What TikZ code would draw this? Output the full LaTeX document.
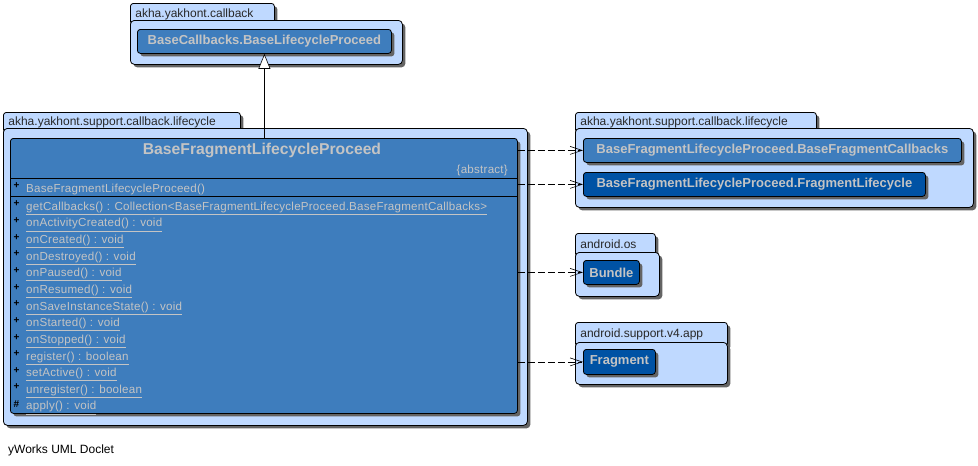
\documentclass[tikz,border=0pt]{standalone}
\usepackage{fontspec}
\setmainfont{Liberation Sans}
\newfontfamily\memberfont[LetterSpace=2]{Liberation Sans}
\usetikzlibrary{shadows,arrows.meta}

\definecolor{pkgfill}{RGB}{191,217,255}
\definecolor{clsfill}{RGB}{62,125,189}
\definecolor{clsdark}{RGB}{0,82,164}
\definecolor{clstext}{RGB}{196,196,196}
\definecolor{shade}{RGB}{100,100,100}
\definecolor{labeltext}{RGB}{40,40,40}

\tikzset{
  shd/.style={drop shadow={shadow xshift=3pt,shadow yshift=-3pt,fill=shade,opacity=1}},
  pkgtab/.style={draw=black, line width=0.8pt, fill=pkgfill, rounded corners=3pt, shd,
    anchor=north west, inner xsep=5pt, inner ysep=0pt, align=left,
    font=\fontsize{12}{14}\selectfont, text=labeltext},
  pkgbody/.style={draw=black, line width=0.8pt, fill=pkgfill, rounded corners=4pt, shd,
    anchor=north west, inner sep=0pt},
  clsbox/.style={draw=black, line width=0.8pt, fill=clsfill, rounded corners=3pt, shd,
    anchor=north west, inner sep=0pt, font=\bfseries\fontsize{13}{15}\selectfont, text=clstext},
  darkcls/.style={clsbox, fill=clsdark},
  member/.style={anchor=base west, inner sep=0pt, font=\memberfont\fontsize{11.6}{13}\selectfont, text=clstext},
  vis/.style={inner sep=0pt, font=\bfseries\fontsize{10}{11}\selectfont, text=black},
  dep/.style={draw=black, line width=0.6pt, dash pattern=on 7pt off 3pt,
    -{Straight Barb[length=12pt,width=8pt]}},
  inherit/.style={draw=black, line width=0.6pt, -{Triangle[length=15pt,width=12pt,fill=white]}}
}

\begin{document}
\begin{tikzpicture}[x=1pt,y=-1pt]
\useasboundingbox[fill=white] (0,0) rectangle (978,466);

% package akha.yakhont.callback
\node[pkgtab, minimum width=144pt, minimum height=21pt, text width=134pt] (p1tab) at (130,3)
  {\raisebox{2pt}{akha.yakhont.callback}};
\node[pkgbody, minimum width=272pt, minimum height=44pt] (p1) at (130,20) {};
\node[clsbox, minimum width=254pt, minimum height=24pt] (base) at (137,29)
  {BaseCallbacks.BaseLifecycleProceed};

% package akha.yakhont.support.callback.lifecycle (main class)
\node[pkgtab, minimum width=237pt, minimum height=20pt, text width=227pt] (p2tab) at (3,112)
  {\raisebox{2pt}{akha.yakhont.support.callback.lifecycle}};
\node[pkgbody, minimum width=524pt, minimum height=297pt] (p2) at (3,128) {};
\node[clsbox, minimum width=507pt, minimum height=275pt] (main) at (10,138) {};
\node[inner sep=0pt, font=\bfseries\fontsize{15.7}{18}\selectfont, text=clstext] (title)
  at (262,150) {BaseFragmentLifecycleProceed};
\node[anchor=east, inner sep=0pt, font=\memberfont\fontsize{11.6}{13}\selectfont, text=clstext] (abs)
  at (508,170) {\{abstract\}};
\draw[line width=0.8pt] (10,178.5) -- (517,178.5);
\draw[line width=0.8pt] (10,196.5) -- (517,196.5);
\node[vis] (c0) at (16.5,186) {+};
\node[member] (ctor) at (26,192.5) {BaseFragmentLifecycleProceed()};

\foreach \i/\v/\t in {
  0/+/getCallbacks() : Collection<BaseFragmentLifecycleProceed.BaseFragmentCallbacks>,
  1/+/onActivityCreated() : void,
  2/+/onCreated() : void,
  3/+/onDestroyed() : void,
  4/+/onPaused() : void,
  5/+/onResumed() : void,
  6/+/onSaveInstanceState() : void,
  7/+/onStarted() : void,
  8/+/onStopped() : void,
  9/+/register() : boolean,
  10/+/setActive() : void,
  11/+/unregister() : boolean,
  12/\#/apply() : void}{
  \pgfmathsetmacro\yy{206+16.64*\i}
  \node[vis] (v\i) at (16.5,\yy-2) {\v};
  \node[member] (m\i) at (26,\yy+4.3) {\underline{\t}};
}

% package akha.yakhont.support.callback.lifecycle (nested types)
\node[pkgtab, minimum width=241pt, minimum height=20pt, text width=231pt] (p3tab) at (575,112)
  {\raisebox{2pt}{akha.yakhont.support.callback.lifecycle}};
\node[pkgbody, minimum width=398pt, minimum height=79pt] (p3) at (575,128) {};
\node[clsbox, minimum width=378pt, minimum height=24pt] (cb) at (583,138)
  {BaseFragmentLifecycleProceed.BaseFragmentCallbacks};
\node[darkcls, minimum width=342pt, minimum height=24pt] (fl) at (583,172)
  {BaseFragmentLifecycleProceed.FragmentLifecycle};

% package android.os
\node[pkgtab, minimum width=80pt, minimum height=23pt, text width=70pt] (p4tab) at (575,233)
  {\raisebox{2pt}{android.os}};
\node[pkgbody, minimum width=84pt, minimum height=44pt] (p4) at (575,252) {};
\node[darkcls, minimum width=56pt, minimum height=24pt] (bundle) at (583,260) {Bundle};

% package android.support.v4.app
\node[pkgtab, minimum width=152pt, minimum height=24pt, text width=142pt] (p5tab) at (575,322)
  {\raisebox{2pt}{android.support.v4.app}};
\node[pkgbody, minimum width=152pt, minimum height=42pt] (p5) at (575,342) {};
\node[darkcls, minimum width=72pt, minimum height=25pt] (frag) at (583,349) {Fragment};

% relations
\draw[inherit] (base.south |- main.north) -- (base.south);
\draw[dep] (cb.west -| main.east) -- (cb.west);
\draw[dep] (fl.west -| main.east) -- (fl.west);
\draw[dep] (bundle.west -| main.east) -- (bundle.west);
\draw[dep] (frag.west -| main.east) -- (frag.west);

% footer
\node[anchor=west, inner sep=0pt, font=\fontsize{12}{14}\selectfont] (footer) at (8,450)
  {yWorks UML Doclet};
\end{tikzpicture}
\end{document}
